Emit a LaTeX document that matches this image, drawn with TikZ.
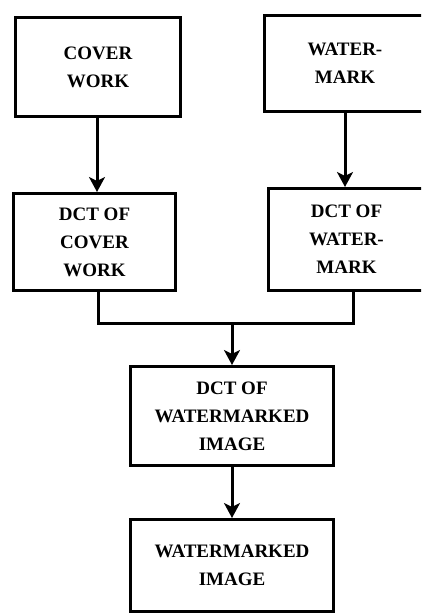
\documentclass[tikz,border=0pt]{standalone}
\usepackage{fontspec}
\setmainfont{Liberation Serif}
\usetikzlibrary{arrows.meta}
\begin{document}
\begin{tikzpicture}[x=1pt,y=-1pt,
  box/.style={draw=black, line width=3pt, fill=white, inner sep=0pt,
    align=center, font=\fontsize{19}{28}\selectfont\bfseries},
  link/.style={draw=black, line width=3pt},
  flow/.style={link, -{Stealth[length=15pt,width=16pt,inset=4pt]}}]
  \useasboundingbox (0,0) rectangle (421,615);
  \clip (0,0) rectangle (421,615);
  % input blocks
  \node[box, minimum width=165pt, minimum height=99pt] (cover) at (98,67) {COVER\\WORK};
  \node[box, minimum width=161pt, minimum height=96pt] (mark) at (345,63.5) {WATER-\\MARK};
  % transform blocks
  \node[box, minimum width=162pt, minimum height=97pt] (dctcover) at (94.5,242) {DCT OF\\COVER\\WORK};
  \node[box, minimum width=156pt, minimum height=102pt] (dctmark) at (346.5,239.5) {DCT OF\\WATER-\\MARK};
  % combined blocks
  \node[box, minimum width=203pt, minimum height=99pt] (dctwm) at (232,416) {DCT OF\\WATERMARKED\\IMAGE};
  \node[box, minimum width=203pt, minimum height=92pt] (wm) at (232,565.5) {WATERMARKED\\IMAGE};
  % junction points
  \coordinate (jl) at (98,323);
  \coordinate (jr) at (353,323);
  \coordinate (jm) at (232,323);
  % connectors
  \draw[flow] (cover.south -| 97,0) -- (dctcover.north -| 97,0);
  \draw[flow] (mark.south) -- (dctmark.north -| mark.south);
  \draw[link] (dctcover.south -| jl) -- (jl) -- (jr) -- (dctmark.south -| jr);
  \draw[flow] (jm) -- (dctwm.north);
  \draw[flow] (dctwm.south) -- (wm.north);
\end{tikzpicture}
\end{document}
